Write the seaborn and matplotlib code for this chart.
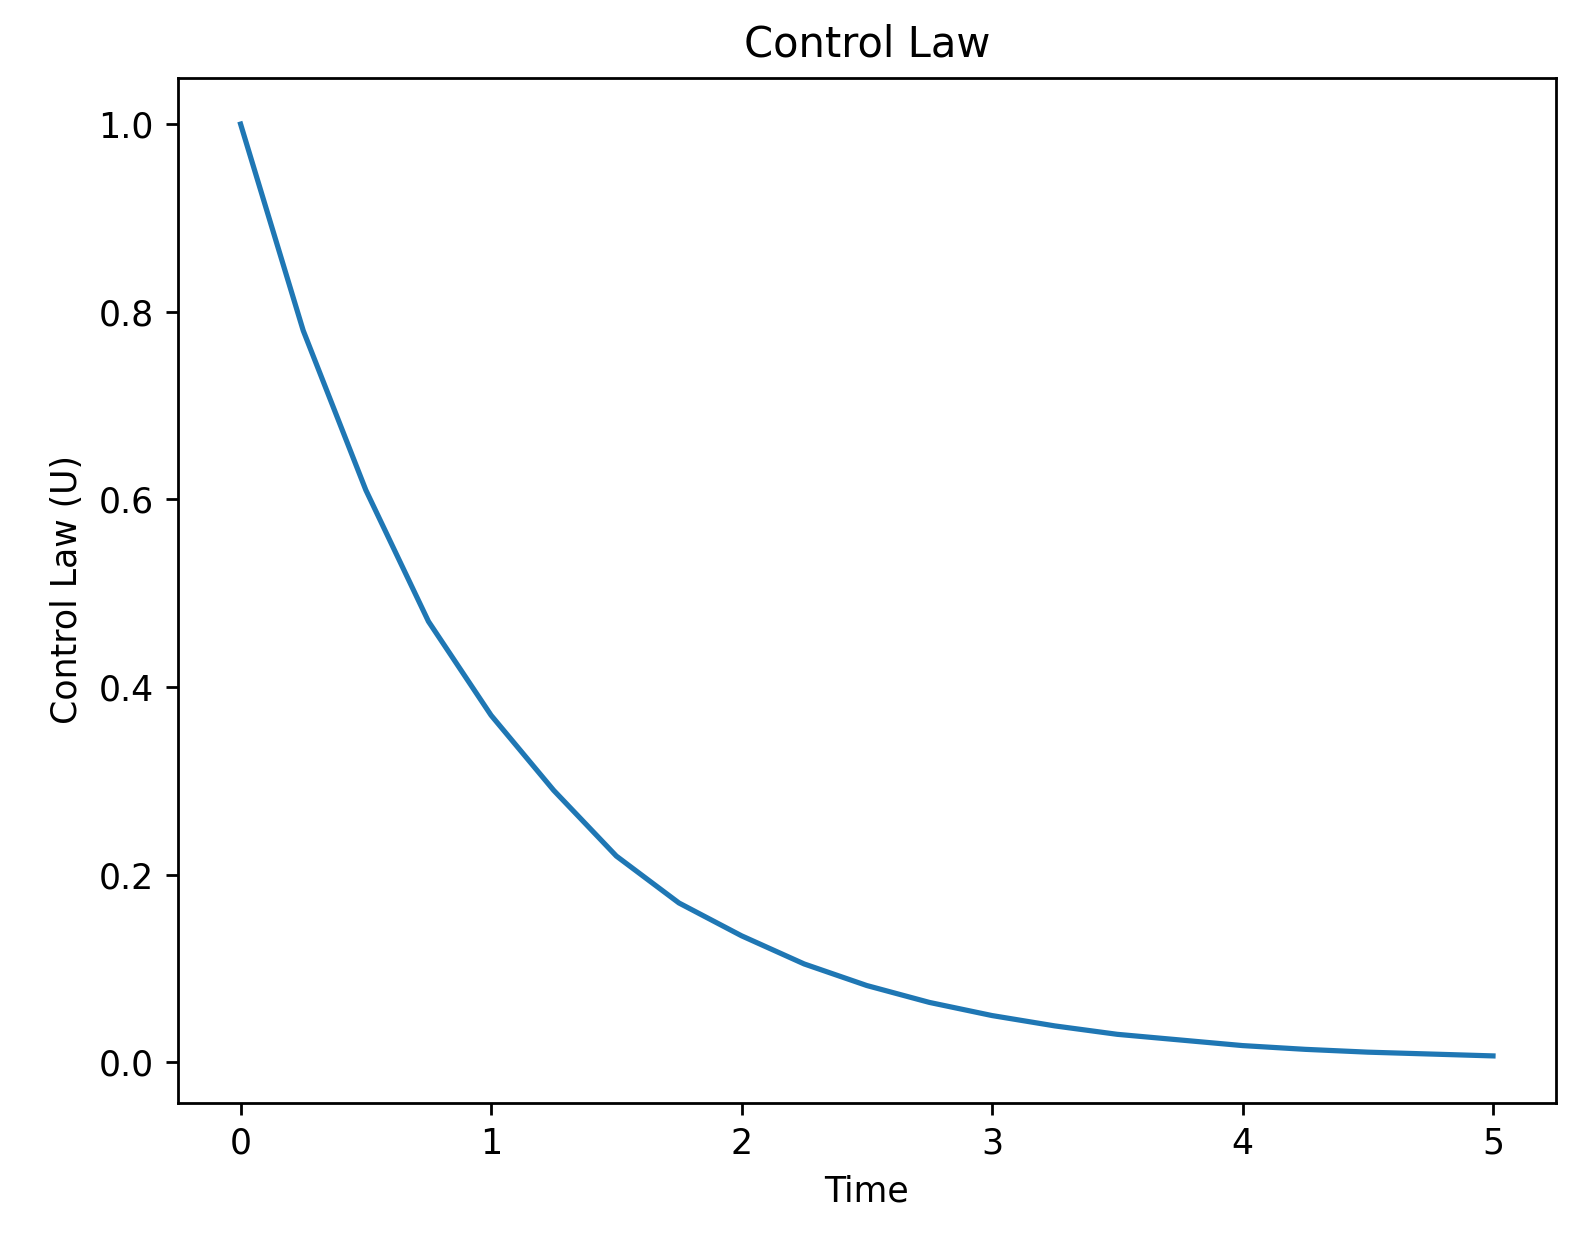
import matplotlib
matplotlib.use("Agg")
import matplotlib.pyplot as plt
import seaborn as sns
import pandas as pd

time = [0.0, 0.25, 0.5, 0.75, 1.0, 1.25, 1.5, 1.75, 2.0, 2.25, 2.5, 2.75, 3.0,
        3.25, 3.5, 3.75, 4.0, 4.25, 4.5, 4.75, 5.0]
control = [1.0, 0.78, 0.61, 0.47, 0.37, 0.29, 0.22, 0.17, 0.135, 0.105, 0.082,
           0.064, 0.05, 0.039, 0.030, 0.024, 0.018, 0.014, 0.011, 0.009, 0.007]

df = pd.DataFrame({"Time": time, "U": control})

fig, ax = plt.subplots(figsize=(1589/250, 1250/250), dpi=250)
fig.subplots_adjust(left=0.112, right=0.979, top=0.938, bottom=0.118)
sns.lineplot(data=df, x="Time", y="U", ax=ax, color="#1f77b4")
ax.set_title("Control Law")
ax.set_xlabel("Time")
ax.set_ylabel("Control Law (U)")
fig.savefig("out.png", dpi=250)
